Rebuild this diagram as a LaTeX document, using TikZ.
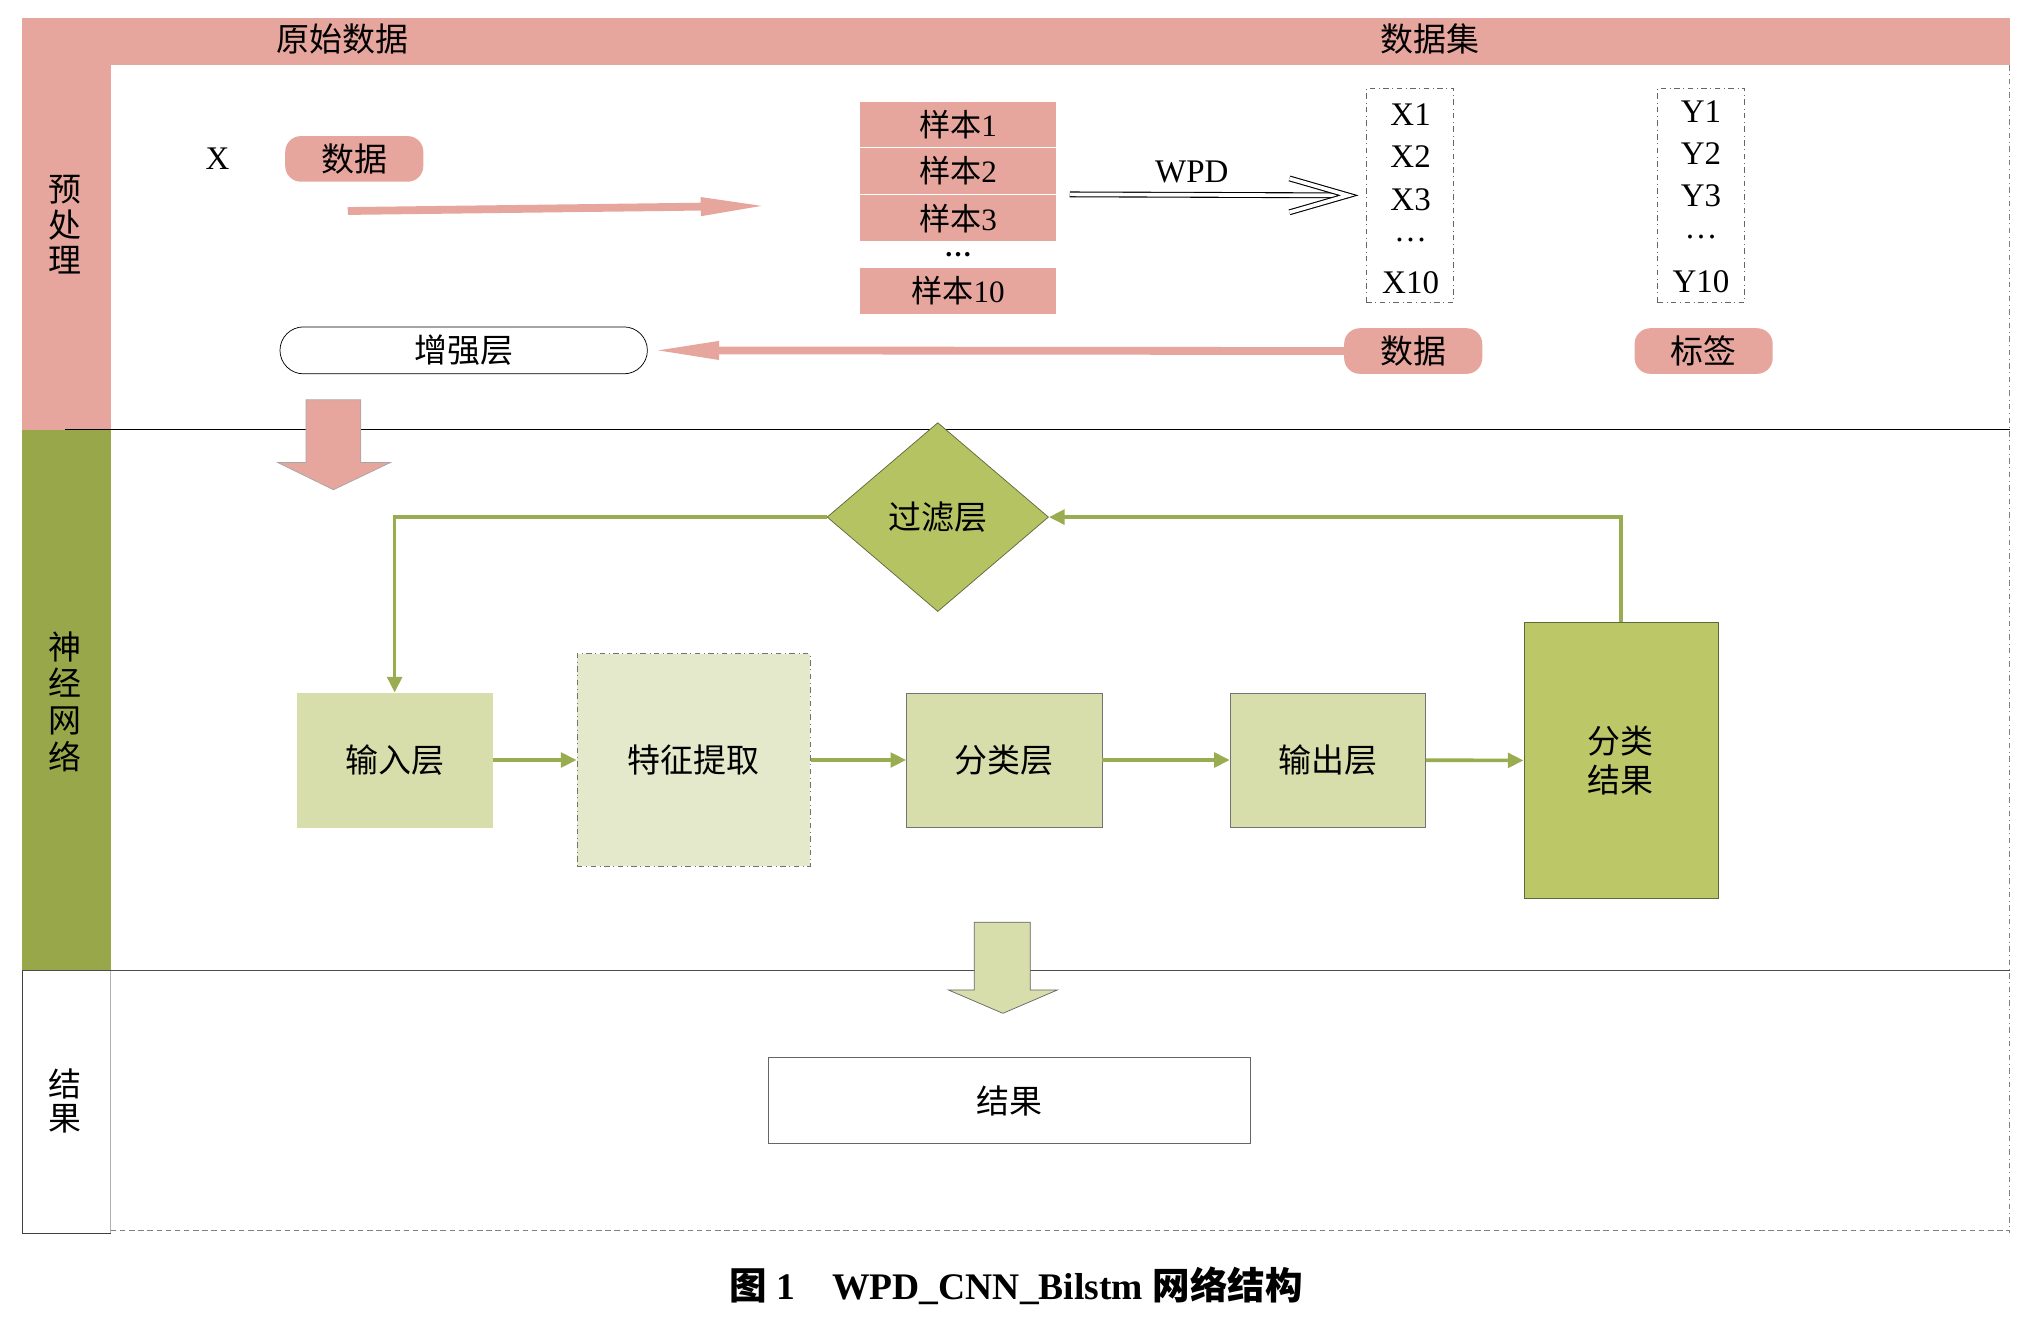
\documentclass[tikz,border=0pt]{standalone}
\usepackage{fontspec}
\setmainfont{Liberation Serif}
\newfontfamily\cjk{Noto Sans CJK SC}
\usepackage{tikz}
\usetikzlibrary{arrows.meta}
\usetikzlibrary{shapes.geometric}
\definecolor{lanepink}{RGB}{230,166,157}
\definecolor{lanegreen}{RGB}{152,167,74}
\definecolor{palegreen}{RGB}{215,222,171}
\definecolor{palergreen}{RGB}{228,233,204}
\definecolor{filtgreen}{RGB}{181,195,98}
\definecolor{resgreen}{RGB}{188,200,104}
\definecolor{linegreen}{RGB}{154,172,80}
\definecolor{edgegreen}{RGB}{95,105,60}

\begin{document}
\begin{tikzpicture}[x=0.025cm,y=-0.025cm,
  lbl/.style={font=\fontsize{18pt}{21pt}\selectfont},
  zh/.style={font=\cjk\fontsize{18pt}{19.5pt}\selectfont},
  tagbox/.style={rounded corners=0.3cm,fill=lanepink,minimum width=2.65cm,minimum height=0.875cm,zh},
  sample/.style={fill=lanepink,draw=white,minimum width=3.775cm,minimum height=0.9cm,font=\fontsize{17pt}{20pt}\selectfont},
  col/.style={draw=black!60,dash dot,minimum width=1.675cm,minimum height=4.1cm},
  layer/.style={fill=palegreen,draw=black!55,minimum width=3.75cm,minimum height=2.575cm,zh},
  pinkarrow/.style={draw=lanepink,line width=0.15cm,-{Triangle[length=1.3cm,width=0.32cm]}},
  wpdline/.style={double,double distance=2pt,line width=0.6pt,line join=miter},
  flow/.style={draw=linegreen,line width=2pt,-{Triangle[length=0.3cm,width=0.28cm]}}]
  \useasboundingbox (0,0) rectangle (1567,1014.4);
  \fill[lanepink] (17,14) rectangle (85,330);
  \fill[lanepink] (85,14) rectangle (1543,50);
  \fill[lanegreen] (17,330) rectangle (85,745);
  \draw[black!75] (17,745) -- (17,947) -- (85,947);
  \draw[gray!60] (85,745) -- (85,947);
  \draw (50,330) -- (1543,330);
  \draw[black!70,line width=0.8pt] (17,745) -- (1543,745);
  \draw[gray,dash dot] (1543,50) -- (1543,947);
  \draw[gray,densely dashed] (85,945) -- (1543,945);
  \node[zh,align=center] (lpre) at (50,172.5) {预\\处\\理};
  \node[zh,align=center,font=\cjk\fontsize{18pt}{20pt}\selectfont] (lnet) at (50,538.5) {神\\经\\网\\络};
  \node[zh,align=center,font=\cjk\fontsize{18pt}{18.5pt}\selectfont] (lres) at (50,845) {结\\果};
  \node[zh] (hraw) at (263,30) {原始数据};
  \node[zh] (hset) at (1098,30) {数据集};

  \node[lbl] (xin) at (167,122) {X};
  \node[tagbox] (raw) at (272,122) {数据};
  \coordinate (pa) at (267,162);
  \coordinate (pb) at (590,158);
  \draw[pinkarrow] (pa) -- (pb);
  \node[sample] (s1) at (735.5,95.5) {{\cjk 样本}1};
  \node[sample] (s2) at (735.5,131) {{\cjk 样本}2};
  \node[sample] (s3) at (735.5,167.5) {{\cjk 样本}3};
  \node[sample] (s10) at (735.5,223) {{\cjk 样本}10};
  \node[anchor=base,inner sep=0pt,font=\bfseries\fontsize{15pt}{18pt}\selectfont] (sdots) at (735.5,197) {…};
  \node[lbl] (wpd) at (915,132) {WPD};
  \node[col] (xcol) at (1082.5,150) {};
  \node[lbl] (x1) at (1083,88) {X1};
  \node[lbl] (x2) at (1083,120) {X2};
  \node[lbl] (x3) at (1083,153) {X3};
  \node[lbl] (xdots) at (1083,184) {…};
  \node[lbl] (x10) at (1083,217) {X10};
  \node[col] (ycol) at (1306,150) {};
  \node[lbl] (y1) at (1306,86) {Y1};
  \node[lbl] (y2) at (1306,118) {Y2};
  \node[lbl] (y3) at (1306,150) {Y3};
  \node[lbl] (ydots) at (1306,182) {…};
  \node[lbl] (y10) at (1306,216) {Y10};
  \coordinate (wpdtip) at (1035,150);
  \draw[wpdline,shorten <=0.25cm] (s3.north east) -- (wpdtip);
  \draw[wpdline] (wpdtip) ++(-45,-13) -- (wpdtip) -- ++(-45,13);
  \node[tagbox] (dat) at (1085,269.5) {数据};
  \node[tagbox] (tag) at (1308,269.5) {标签};
  \node[draw,rounded corners=0.45cm,minimum width=7.05cm,minimum height=0.9cm,zh] (enh) at (356,269) {增强层};
  \draw[pinkarrow,shorten >=2pt] (dat.west) -- (enh.east);
  \filldraw[fill=lanepink,draw=gray!70] (235,307) -- (277,307) -- (277,355) -- (300,355) -- (256,376) -- (213,355) -- (235,355) -- cycle;

  \node[diamond,fill=filtgreen,draw=edgegreen,minimum width=4.25cm,minimum height=3.625cm,zh] (filt) at (720,397) {过滤层};
  \node[layer,draw=palegreen] (inp) at (303,583.5) {输入层};
  \node[layer,fill=palergreen,dash dot,minimum width=4.475cm,minimum height=4.075cm] (feat) at (532.5,583.5) {特征提取};
  \node[layer] (cls) at (771,583.5) {分类层};
  \node[layer] (outl) at (1019.5,583.5) {输出层};
  \node[layer,fill=resgreen,draw=edgegreen,minimum width=3.725cm,minimum height=5.3cm,align=center,font=\cjk\fontsize{18pt}{21pt}\selectfont] (res) at (1244.5,584) {分类\\结果};
  \draw[flow] (inp) -- (feat);
  \draw[flow] (feat) -- (cls);
  \draw[flow] (cls) -- (outl);
  \draw[flow] (outl) -- (res);
  \draw[flow] (res.north) |- (filt.east);
  \draw[flow] (filt.west) -| (inp.north);
  \filldraw[fill=palegreen,draw=black!60] (748,708) -- (791,708) -- (791,760) -- (812,760) -- (770,778) -- (728,760) -- (748,760) -- cycle;

  \node[draw=black!60,minimum width=9.25cm,minimum height=1.65cm,zh] (final) at (775,845) {结果};
  \node[font=\bfseries\fontsize{20.5pt}{24pt}\selectfont] (cap) at (780,987) {{\cjk 图} 1\quad WPD\_CNN\_Bilstm {\cjk 网络结构}};
\end{tikzpicture}
\end{document}
